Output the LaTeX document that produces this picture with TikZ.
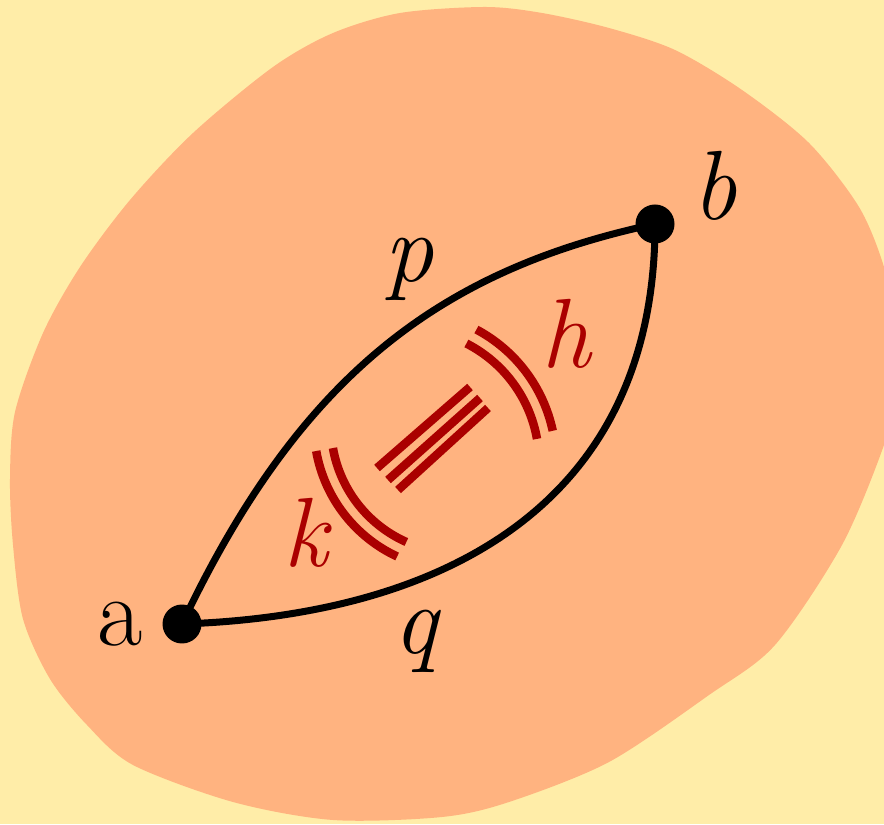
\documentclass[tikz,border=0pt]{standalone}
\usepackage{tikz}
\definecolor{bgyellow}{RGB}{255,237,168}
\definecolor{blobcol}{RGB}{255,179,128}
\definecolor{darkred}{RGB}{170,0,0}
\begin{document}
\begin{tikzpicture}[x=0.02cm,y=0.02cm,
  dot/.style={circle,fill=black,inner sep=0pt,minimum size=0.78cm},
  lbl/.style={inner sep=0pt,font=\fontsize{56}{60}\selectfont},
  itlbl/.style={lbl,font=\fontsize{56}{60}\selectfont\itshape},
  redlbl/.style={itlbl,text=darkred},
  curvestyle/.style={draw=black,line width=0.14cm},
  redline/.style={draw=darkred,line width=0.17cm}]
\useasboundingbox (0,0) rectangle (884,824);
\fill[bgyellow] (0,0) rectangle (884,824);
\fill[blobcol] plot[smooth cycle,tension=0.5] coordinates {
 (485,817) (542,811) (609,796) (675,774) (742,734) (809,681) (859,617)
 (884,557) (897,494) (897,434) (884,379) (842,279) (775,179) (709,129)
 (609,62) (509,22) (442,7) (333,4) (233,22) (133,59) (87,99) (50,145)
 (23,205) (13,279) (10,345) (15,412) (43,491) (80,557) (130,624)
 (193,691) (273,757) (333,791) (400,811)};
% points
\node[dot] (a) at (182,200) {};
\node[dot] (b) at (655,600) {};
% paths
\draw[curvestyle] (a.center) .. controls (300,449) and (440,554) .. (b.center);
\draw[curvestyle] (a.center) .. controls (450,209) and (655,324) .. (b.center);
% homotopy arcs
\coordinate (kc) at (458,398);
\coordinate (hc) at (406,362);
\draw[redline] (kc) ++(190:144) arc[start angle=190,end angle=245,radius=144];
\draw[redline] (kc) ++(190:127) arc[start angle=190,end angle=246,radius=127];
\draw[redline] (hc) ++(12:150) arc[start angle=12,end angle=62,radius=150];
\draw[redline] (hc) ++(10:133) arc[start angle=10,end angle=63,radius=133];
% triple line
\coordinate (t1s) at (377,356); \coordinate (t1e) at (470,437);
\coordinate (t2s) at (388,344); \coordinate (t2e) at (480,426);
\coordinate (t3s) at (398,334); \coordinate (t3e) at (488,416);
\draw[redline] (t1s) -- (t1e);
\draw[redline] (t2s) -- (t2e);
\draw[redline] (t3s) -- (t3e);
% labels
\node[lbl] (la) at (120,200) {a};
\node[itlbl] (lb) at (715,638) {b};
\node[itlbl] (lp) at (409,555) {p};
\node[itlbl] (lq) at (416,183) {q};
\node[redlbl] (lk) at (306,291) {k};
\node[redlbl] (lh) at (566,490) {h};
\end{tikzpicture}
\end{document}
